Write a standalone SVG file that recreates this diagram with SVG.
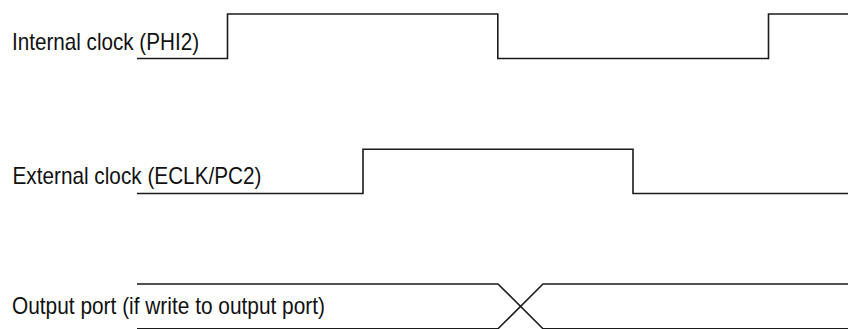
<svg xmlns="http://www.w3.org/2000/svg" width="848" height="329" viewBox="0 0 848 329">
<style>
.lbl{font-family:"Liberation Sans",Arial,sans-serif;font-size:24px;fill:#111}
.sig{fill:none;stroke:#1a1a1a;stroke-width:1.6;stroke-linejoin:miter}
</style>
<rect width="848" height="329" fill="#fff"/>
<g id="label-phi2"><text class="lbl" x="12" y="50" textLength="187" lengthAdjust="spacingAndGlyphs">Internal clock (PHI2)</text></g>
<g id="label-eclk"><text class="lbl" x="12.5" y="184" textLength="249" lengthAdjust="spacingAndGlyphs">External clock (ECLK/PC2)</text></g>
<g id="label-port"><text class="lbl" x="12" y="314" textLength="313" lengthAdjust="spacingAndGlyphs">Output port (if write to output port)</text></g>
<g id="connectors">
<polyline id="wave-phi2" class="sig" points="137,58.5 227.5,58.5 227.5,14 497.8,14 497.8,58.5 768.5,58.5 768.5,14 848,14"/>
<polyline id="wave-eclk" class="sig" points="137,193.5 363,193.5 363,149.3 633,149.3 633,193.5 848,193.5"/>
<polyline id="wave-port-top" class="sig" points="137,284 498,284 543,328.7 848,328.7"/>
<polyline id="wave-port-bottom" class="sig" points="137,328.7 498,328.7 543,284 848,284"/>
</g>
</svg>
